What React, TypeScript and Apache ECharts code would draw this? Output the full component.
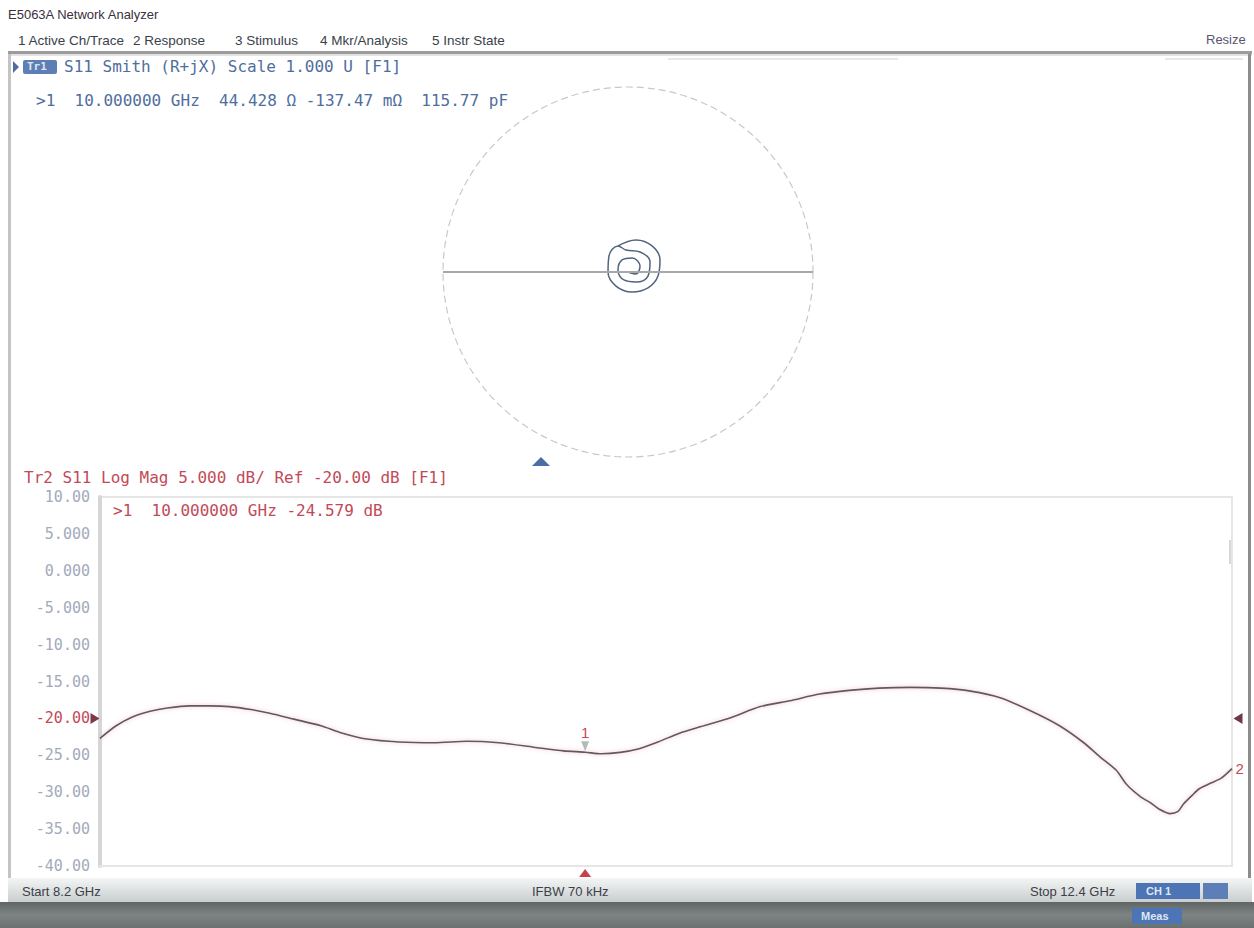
import React, { useEffect, useRef } from "react";
import * as echarts from "echarts";

// ---- Data ----
const startGHz = 8.2;
const stopGHz = 12.4;
const refLevel = -20;

const freqGHz = [
  8.2, 8.26, 8.32, 8.39, 8.45, 8.53, 8.61, 8.68, 8.76, 8.83, 8.92, 9.02, 9.09, 9.19,
  9.31, 9.44, 9.56, 9.68, 9.81, 9.92, 10.0, 10.06, 10.13, 10.2, 10.27, 10.35, 10.43,
  10.54, 10.65, 10.76, 10.87, 10.98, 11.09, 11.21, 11.32, 11.43, 11.54, 11.66, 11.76,
  11.85, 11.91, 11.97, 12.01, 12.06, 12.1, 12.13, 12.17, 12.2, 12.22, 12.25, 12.28,
  12.32, 12.36, 12.4,
];
const s11dB = [
  -22.7, -21.0, -19.8, -19.0, -18.6, -18.3, -18.3, -18.4, -18.8, -19.3, -20.1, -21.0,
  -21.9, -22.8, -23.2, -23.3, -23.1, -23.3, -23.9, -24.4, -24.58, -24.8, -24.6, -24.1,
  -23.2, -22.0, -21.1, -19.9, -18.4, -17.6, -16.7, -16.2, -15.9, -15.8, -15.9, -16.3,
  -17.2, -19.1, -21.0, -23.3, -25.2, -27.0, -29.0, -30.6, -31.5, -32.3, -32.9, -32.6,
  -31.6, -30.5, -29.5, -28.8, -28.1, -26.8,
];

const yTickValues = [-40, -35, -30, -25, -20, -15, -10, -5, 0, 5, 10];
const yTickLabels = [
  "-40.00", "-35.00", "-30.00", "-25.00", "-20.00", "-15.00", "-10.00", "-5.000",
  "0.000", "5.000", "10.00",
];

// Smith chart trace (reflection coefficient, real / imaginary)
const smithRe = [
  -0.054, 0.043, 0.13, 0.173, 0.162, 0.108, 0.022, -0.065, -0.108, -0.103, -0.054,
  -0.011, 0.065, 0.119, 0.108, 0.043, -0.022, -0.054, -0.032, 0.022, 0.065, 0.043, 0.0,
];
const smithIm = [
  0.141, 0.173, 0.141, 0.065, -0.022, -0.086, -0.108, -0.076, 0.0, 0.086, 0.141, 0.119,
  0.108, 0.054, -0.022, -0.054, -0.043, 0.011, 0.065, 0.076, 0.032, -0.011, 0.0,
];

const marker1 = { f: 10.0, dB: -24.579 };
const marker2 = { f: 12.4, dB: -26.8 };

const menuItems = ["1 Active Ch/Trace", "2 Response", "3 Stimulus", "4 Mkr/Analysis", "5 Instr State"];
const menuX = [18, 133, 235, 320, 432];

const MONO = "'DejaVu Sans Mono', 'Liberation Mono', monospace";
const SANS = "'Liberation Sans', 'DejaVu Sans', sans-serif";
const BLUE = "#4f6e9e";
const RED = "#c24a58";

export default function App() {
  const ref = useRef<HTMLDivElement>(null);

  useEffect(() => {
    if (!ref.current) return;
    const chart = echarts.init(ref.current, undefined, { renderer: "svg" });

    const smithCx = 628;
    const smithCy = 272;
    const smithR = 185;

    const graphic: any[] = [
      // window title & menu
      { type: "text", left: 8, top: 8, style: { text: "E5063A Network Analyzer", font: `13px ${SANS}`, fill: "#3a3040" } },
      ...menuItems.map((t, i) => ({
        type: "text", left: menuX[i], top: 33,
        style: { text: t, font: `13.5px ${SANS}`, fill: "#3a3f4a" },
      })),
      { type: "text", left: 1206, top: 33, style: { text: "Resize", font: `13px ${SANS}`, fill: "#5a5470" } },
      // frame
      { type: "rect", shape: { x: 8, y: 51, width: 1244, height: 3 }, style: { fill: "#9c9c9c" } },
      { type: "rect", shape: { x: 8, y: 54, width: 1244, height: 2 }, style: { fill: "#e2e2e2" } },
      { type: "rect", shape: { x: 8, y: 54, width: 3, height: 826 }, style: { fill: "#c4c4c4" } },
      { type: "rect", shape: { x: 1248, y: 54, width: 3, height: 826 }, style: { fill: "#8c8c8c" } },
      { type: "rect", shape: { x: 668, y: 58, width: 230, height: 2 }, style: { fill: "#e8e8e8" } },
      { type: "rect", shape: { x: 1165, y: 58, width: 78, height: 2 }, style: { fill: "#e8e8e8" } },
      // Tr1 header
      { type: "polygon", shape: { points: [[13, 61], [19, 67], [13, 73]] }, style: { fill: BLUE } },
      { type: "rect", shape: { x: 23, y: 60, width: 34, height: 14, r: 2 }, style: { fill: "#5d7fb4" } },
      { type: "text", left: 27, top: 61, style: { text: "Tr1", font: `bold 11px ${MONO}`, fill: "#dfe8f6" } },
      { type: "text", left: 64, top: 58, style: { text: "S11 Smith (R+jX) Scale 1.000 U [F1]", font: `16px ${MONO}`, fill: BLUE } },
      { type: "text", left: 36, top: 92, style: { text: ">1  10.000000 GHz  44.428 Ω -137.47 mΩ  115.77 pF", font: `16px ${MONO}`, fill: BLUE } },
      // Smith unit circle
      {
        type: "circle", shape: { cx: smithCx, cy: smithCy, r: smithR },
        style: { fill: "none", stroke: "#c8c8cc", lineWidth: 1.2, lineDash: [7, 4] },
      },
      { type: "polygon", shape: { points: [[532, 466], [541, 457], [550, 466]] }, style: { fill: "#4a6fa6" } },
      // Tr2 header
      { type: "text", left: 24, top: 469, style: { text: "Tr2 S11 Log Mag 5.000 dB/ Ref -20.00 dB [F1]", font: `16px ${MONO}`, fill: RED } },
      { type: "text", left: 113, top: 502, style: { text: ">1  10.000000 GHz -24.579 dB", font: `16px ${MONO}`, fill: RED } },
      { type: "rect", shape: { x: 1229, y: 540, width: 2, height: 24 }, style: { fill: "#d8d8d8" } },
      // status bar
      {
        type: "rect", shape: { x: 8, y: 878, width: 1244, height: 24 },
        style: {
          fill: new echarts.graphic.LinearGradient(0, 0, 0, 1, [
            { offset: 0, color: "#f4f6f6" },
            { offset: 1, color: "#c9cdcd" },
          ]),
        },
      },
      {
        type: "rect", shape: { x: 0, y: 902, width: 1254, height: 26 },
        style: {
          fill: new echarts.graphic.LinearGradient(0, 0, 0, 1, [
            { offset: 0, color: "#5f6464" },
            { offset: 0.5, color: "#7e8383" },
            { offset: 1, color: "#6a6f6f" },
          ]),
        },
      },
      { type: "text", left: 22, top: 885, style: { text: "Start 8.2 GHz", font: `13px ${SANS}`, fill: "#3c4048" } },
      { type: "text", left: 532, top: 885, style: { text: "IFBW 70 kHz", font: `13px ${SANS}`, fill: "#3c4048" } },
      { type: "text", left: 1030, top: 885, style: { text: "Stop 12.4 GHz", font: `13px ${SANS}`, fill: "#3c4048" } },
      { type: "rect", shape: { x: 1136, y: 883, width: 64, height: 16 }, style: { fill: "#4d74b4" } },
      { type: "text", left: 1146, top: 885, style: { text: "CH 1", font: `bold 11px ${SANS}`, fill: "#dfe7f4" } },
      { type: "rect", shape: { x: 1203, y: 883, width: 25, height: 16 }, style: { fill: "#5c7fb8" } },
      { type: "rect", shape: { x: 1132, y: 908, width: 50, height: 16 }, style: { fill: "#4d74b4" } },
      { type: "text", left: 1141, top: 910, style: { text: "Meas", font: `bold 11px ${SANS}`, fill: "#dfe7f4" } },
    ];

    const option: any = {
      animation: false,
      backgroundColor: "#ffffff",
      grid: [
        { left: 100, top: 497, width: 1132, height: 369, show: true, borderColor: "#e6e6e6", borderWidth: 2, containLabel: false },
        { left: smithCx - smithR, top: smithCy - smithR, width: smithR * 2, height: smithR * 2, containLabel: false },
      ],
      xAxis: [
        {
          type: "value", gridIndex: 0, min: startGHz, max: stopGHz,
          axisLabel: { show: false }, axisTick: { show: false }, splitLine: { show: false },
          axisLine: { show: true, onZero: false, lineStyle: { color: "#e6e6e6", width: 2 } },
        },
        {
          type: "value", gridIndex: 1, min: -1, max: 1, show: false,
        },
      ],
      yAxis: [
        {
          type: "value", gridIndex: 0, min: -40, max: 10, interval: 5,
          axisTick: { show: false }, splitLine: { show: false },
          axisLine: { show: true, onZero: false, lineStyle: { color: "#d6d6d6", width: 4 } },
          axisLabel: {
            margin: 10,
            fontFamily: MONO, fontSize: 15, color: "#a3aabb",
            formatter: (v: number) => {
              const i = yTickValues.indexOf(Math.round(v));
              const s = i >= 0 ? yTickLabels[i] : "";
              return Math.round(v) === refLevel ? `{ref|${s}}` : s;
            },
            rich: { ref: { color: RED, fontFamily: MONO, fontSize: 15 } },
          },
        },
        { type: "value", gridIndex: 1, min: -1, max: 1, show: false },
      ],
      series: [
        {
          type: "line", xAxisIndex: 0, yAxisIndex: 0,
          data: freqGHz.map((f, i) => [f, s11dB[i]]),
          showSymbol: false, smooth: 0.25,
          lineStyle: { color: "#5e5a5f", width: 1.6, shadowColor: "rgba(225,120,135,0.5)", shadowBlur: 4 },
          markPoint: {
            silent: true,
            data: [
              {
                coord: [startGHz, refLevel], symbol: "triangle", symbolRotate: -90, symbolSize: [11, 9],
                symbolOffset: [-5, 0], itemStyle: { color: "#7e3848" }, label: { show: false },
              },
              {
                coord: [stopGHz, refLevel], symbol: "triangle", symbolRotate: 90, symbolSize: [11, 9],
                symbolOffset: [6, 0], itemStyle: { color: "#6e3848" }, label: { show: false },
              },
              {
                coord: [marker1.f, -40], symbol: "triangle", symbolSize: [12, 8],
                symbolOffset: [0, 7], itemStyle: { color: "#c8404e" }, label: { show: false },
              },
              {
                coord: [marker1.f, marker1.dB], symbol: "triangle", symbolRotate: 180, symbolSize: [8, 10],
                symbolOffset: [0, -6], itemStyle: { color: "#b8b8b8" },
                label: { show: true, position: "top", distance: 1, formatter: "1", color: RED, fontFamily: SANS, fontSize: 15 },
              },
              {
                coord: [marker2.f, marker2.dB], symbol: "circle", symbolSize: 1,
                itemStyle: { color: "rgba(0,0,0,0)" },
                label: { show: true, position: "right", distance: 3, formatter: "2", color: RED, fontFamily: SANS, fontSize: 15 },
              },
            ],
          },
        },
        {
          type: "line", xAxisIndex: 1, yAxisIndex: 1,
          data: smithRe.map((r, i) => [r, smithIm[i]]),
          showSymbol: false, smooth: 0.4,
          lineStyle: { color: "#52637e", width: 1.5 },
          markLine: {
            silent: true, symbol: "none", label: { show: false },
            lineStyle: { color: "#a8a8a8", width: 2, type: "solid" },
            data: [{ yAxis: 0 }],
          },
        },
      ],
      graphic,
    };

    chart.setOption(option);
    return () => chart.dispose();
  }, []);

  return (
    <div
      ref={ref}
      style={{ position: "absolute", left: 0, top: 0, width: 1254, height: 928, background: "#fff" }}
    />
  );
}
